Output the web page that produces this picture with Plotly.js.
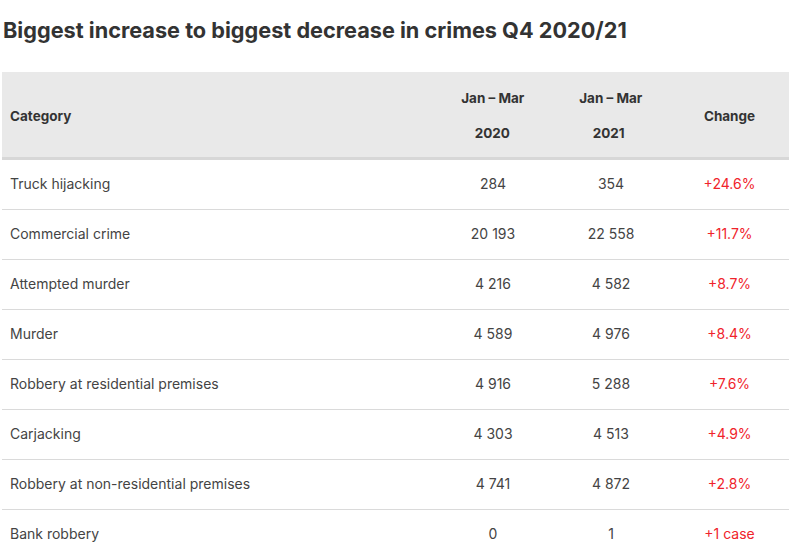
<!DOCTYPE html>
<html>
<head>
<meta charset="utf-8">
<script src="https://cdn.plot.ly/plotly-3.0.1.min.js"></script>
<style>
html,body{margin:0;padding:0;background:#fff;overflow:hidden;}
</style>
</head>
<body>
<div id="chart"></div>
<script>
// ---- data ----
var categories = [
  "Truck hijacking",
  "Commercial crime",
  "Attempted murder",
  "Murder",
  "Robbery at residential premises",
  "Carjacking",
  "Robbery at non-residential premises",
  "Bank robbery"
];
var values2020 = [284, 20193, 4216, 4589, 4916, 4303, 4741, 0];
var values2021 = [354, 22558, 4582, 4976, 5288, 4513, 4872, 1];
var changeLabels = ["+24.6%", "+11.7%", "+8.7%", "+8.4%", "+7.6%", "+4.9%", "+2.8%", "+1 case"];
var headerLabels = ["Category", "Jan – Mar", "Jan – Mar", "Change"];
var headerSub = ["", "2020", "2021", ""];
var titleText = "Biggest increase to biggest decrease in crimes Q4 2020/21";

// ---- formatting ----
function fmt(n) {
  return String(n).replace(/\B(?=(\d{3})+(?!\d))/g, "\u00a0");
}
function headerCell(top, sub) {
  if (!sub) return "\u00a0<br>" + top;
  return top + "<br><br>\u2002\u2002" + sub;
}

var FONT = "Inter, Lato, sans-serif";
// geometry (pixels)
var W = 789, L = 2, R = 0, B = 0;
var gridTop = 72, headFillBottom = 157, headBorderBottom = 160, rowH = 50, nVisibleRows = 8;
var textTop = 82;          // table (text) origin
var headerH = 88;          // so that body text sits centred in each 50px row
var H = textTop + headerH + rowH * categories.length + 4;
var plotH = H - textTop - B;

function py(px) { return 1 - (px - textTop) / plotH; }

var trace = {
  type: "table",
  columnwidth: [432, 118, 118, 119],
  domain: {x: [0, 1], y: [0, 1]},
  header: {
    values: headerLabels.map(function (t, i) { return headerCell(t, headerSub[i]); }),
    align: ["left", "center", "center", "center"],
    height: headerH,
    fill: {color: "rgba(0,0,0,0)"},
    line: {color: "rgba(0,0,0,0)", width: 0},
    font: {family: FONT, size: 13.5, color: "#333333", weight: "bold"}
  },
  cells: {
    values: [categories, values2020.map(fmt), values2021.map(fmt), changeLabels],
    align: ["left", "center", "center", "center"],
    height: rowH,
    fill: {color: "rgba(0,0,0,0)"},
    line: {color: "rgba(0,0,0,0)", width: 0},
    font: {
      family: FONT,
      size: 14,
      color: ["#444444", "#444444", "#444444", "#f0232b"]
    }
  }
};

var shapes = [
  {type: "rect", xref: "paper", yref: "paper", x0: 0, x1: 1, y0: py(headFillBottom), y1: py(gridTop),
   fillcolor: "#e9e9e9", line: {width: 0}, layer: "below"},
  {type: "rect", xref: "paper", yref: "paper", x0: 0, x1: 1, y0: py(headBorderBottom), y1: py(headFillBottom),
   fillcolor: "#d7d7d7", line: {width: 0}, layer: "below"}
];
for (var i = 1; i < nVisibleRows; i++) {
  var yl = headBorderBottom + i * rowH - 0.5;
  shapes.push({type: "line", xref: "paper", yref: "paper", x0: 0, x1: 1, y0: py(yl), y1: py(yl),
               line: {color: "#dadada", width: 1}, layer: "below"});
}

var layout = {
  width: W,
  height: H,
  margin: {l: L, r: R, t: textTop, b: B, pad: 0},
  paper_bgcolor: "#ffffff",
  title: {
    text: "<b>" + titleText + "</b>",
    x: 0, xref: "paper", xanchor: "left",
    y: 1, yref: "container", yanchor: "top",
    pad: {t: 23, l: 1},
    font: {family: FONT, size: 21.7, color: "#333333"}
  },
  shapes: shapes,
  showlegend: false
};

Plotly.newPlot("chart", [trace], layout, {displayModeBar: false, staticPlot: true});
</script>
</body>
</html>
